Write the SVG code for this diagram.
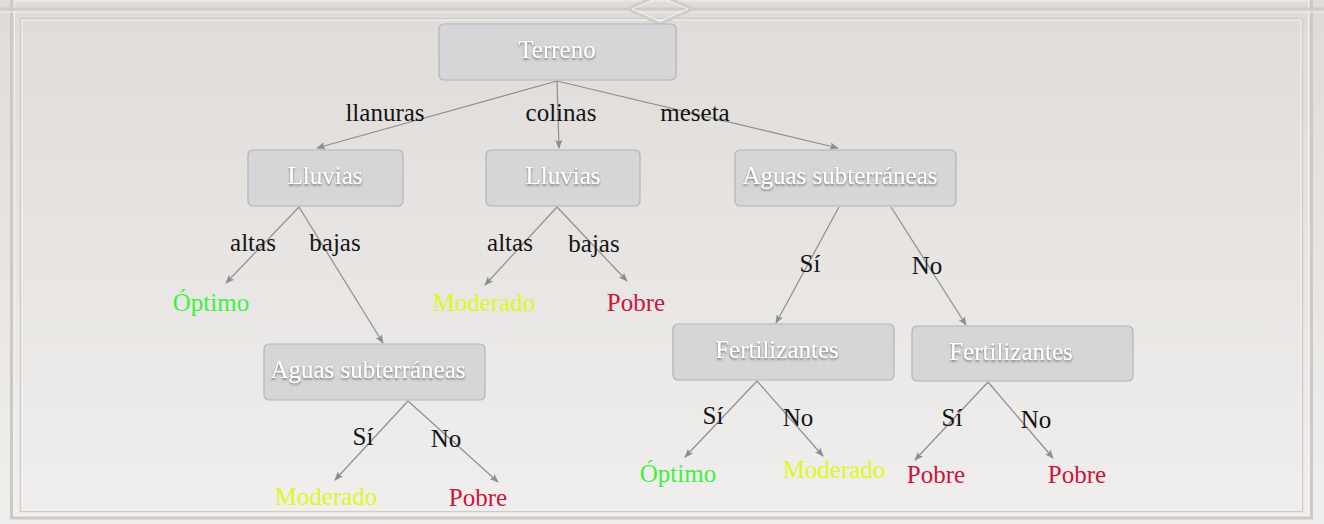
<svg xmlns="http://www.w3.org/2000/svg" width="1324" height="524" viewBox="0 0 1324 524">
<defs>
<linearGradient id="bg" x1="0" y1="0" x2="0" y2="1">
<stop offset="0" stop-color="#dedbd9"/>
<stop offset="1" stop-color="#f1efed"/>
</linearGradient>
<filter id="sh" x="-10%" y="-30%" width="120%" height="160%">
<feDropShadow dx="0" dy="1.5" stdDeviation="1.2" flood-color="#444" flood-opacity="0.7"/>
</filter>
<marker id="ah" viewBox="0 0 10 10" refX="9" refY="5" markerWidth="9" markerHeight="9" orient="auto" markerUnits="userSpaceOnUse">
<path d="M0,1 L10,5 L0,9 L2,5 Z" fill="#8e8e8e"/>
</marker>
</defs>
<style>
.node rect{fill:#d6d5d8;stroke:#b4b3b6;stroke-width:1.2}
.node text{font-family:"Liberation Serif",serif;font-size:25px;fill:#ffffff;text-anchor:middle;filter:url(#sh)}
.lbl{font-family:"Liberation Serif",serif;font-size:25px;fill:#141414;text-anchor:middle}
.leaf{font-family:"Liberation Serif",serif;font-size:25px;text-anchor:middle}
.g{fill:#3ff03f}
.y{fill:#e0f524}
.r{fill:#c8173a}
#connectors line{stroke:#8e8e8e;stroke-width:1.2;marker-end:url(#ah)}
.frame{fill:none}
</style>
<rect x="0" y="0" width="1324" height="524" fill="url(#bg)"/>
<g id="frame">
<rect class="frame" x="11.5" y="-2" width="1300" height="520" stroke="#cdc9c6" stroke-width="3"/>
<rect class="frame" x="14.5" y="1" width="1294" height="514" stroke="#f4f2f0" stroke-width="1"/>
<line x1="0" y1="9" x2="1324" y2="9" stroke="#cfcbc8" stroke-width="3"/>
<line x1="0" y1="12" x2="1324" y2="12" stroke="#f3f1ef" stroke-width="1"/>
<rect class="frame" x="20.5" y="18.5" width="1282" height="493" stroke="#d0ccc9" stroke-width="1.5"/>
<rect class="frame" x="22" y="20" width="1279" height="490" stroke="#f5f3f1" stroke-width="1"/>
<path d="M628,9 L660,-6 L692,9 L660,24 Z" fill="none" stroke="#d0ccc9" stroke-width="3"/>
<path d="M632,9 L660,-3 L688,9 L660,21 Z" fill="none" stroke="#f3f1ef" stroke-width="1"/>
</g>
<g id="connectors">
<line x1="557" y1="81" x2="317" y2="148"/>
<line x1="557" y1="81" x2="559" y2="148"/>
<line x1="557" y1="81" x2="838" y2="148"/>
<line x1="299" y1="207" x2="226" y2="283"/>
<line x1="299" y1="207" x2="383" y2="343"/>
<line x1="557" y1="207" x2="485" y2="285"/>
<line x1="557" y1="207" x2="627" y2="281"/>
<line x1="839" y1="207" x2="776" y2="323"/>
<line x1="891" y1="207" x2="966" y2="325"/>
<line x1="408" y1="401" x2="335" y2="480"/>
<line x1="408" y1="401" x2="498" y2="482"/>
<line x1="757" y1="381" x2="685" y2="457"/>
<line x1="757" y1="381" x2="823" y2="456"/>
<line x1="988" y1="382" x2="915" y2="460"/>
<line x1="988" y1="382" x2="1053" y2="458"/>
</g>
<g id="n-terreno" class="node"><rect x="439" y="24" width="237" height="56" rx="5"/><text x="557" y="58">Terreno</text></g>
<g id="n-lluvias1" class="node"><rect x="248" y="150" width="155" height="56" rx="5"/><text x="325" y="184">Lluvias</text></g>
<g id="n-lluvias2" class="node"><rect x="486" y="150" width="154" height="56" rx="5"/><text x="563" y="184">Lluvias</text></g>
<g id="n-aguas1" class="node"><rect x="735" y="150" width="221" height="56" rx="5"/><text x="840" y="184">Aguas subterráneas</text></g>
<g id="n-aguas2" class="node"><rect x="264" y="344" width="221" height="56" rx="5"/><text x="368" y="378">Aguas subterráneas</text></g>
<g id="n-fert1" class="node"><rect x="673" y="324" width="221" height="56" rx="5"/><text x="777" y="358">Fertilizantes</text></g>
<g id="n-fert2" class="node"><rect x="912" y="326" width="221" height="55" rx="5"/><text x="1011" y="360">Fertilizantes</text></g>
<g id="labels">
<text class="lbl" x="385" y="121">llanuras</text>
<text class="lbl" x="561" y="121">colinas</text>
<text class="lbl" x="695" y="121">meseta</text>
<text class="lbl" x="253" y="251">altas</text>
<text class="lbl" x="335" y="251">bajas</text>
<text class="lbl" x="510" y="251">altas</text>
<text class="lbl" x="594" y="252">bajas</text>
<text class="lbl" x="810" y="272">Sí</text>
<text class="lbl" x="927" y="274">No</text>
<text class="lbl" x="363" y="445">Sí</text>
<text class="lbl" x="446" y="447">No</text>
<text class="lbl" x="713" y="424">Sí</text>
<text class="lbl" x="798" y="426">No</text>
<text class="lbl" x="952" y="426">Sí</text>
<text class="lbl" x="1036" y="428">No</text>
</g>
<g id="leaves">
<text id="l1" class="leaf g" x="211" y="311">Óptimo</text>
<text id="l2" class="leaf y" x="484" y="311">Moderado</text>
<text id="l3" class="leaf r" x="636" y="311">Pobre</text>
<text id="l4" class="leaf y" x="326" y="505">Moderado</text>
<text id="l5" class="leaf r" x="478" y="506">Pobre</text>
<text id="l6" class="leaf g" x="678" y="482">Óptimo</text>
<text id="l7" class="leaf y" x="834" y="478">Moderado</text>
<text id="l8" class="leaf r" x="936" y="483">Pobre</text>
<text id="l9" class="leaf r" x="1077" y="483">Pobre</text>
</g>
</svg>
